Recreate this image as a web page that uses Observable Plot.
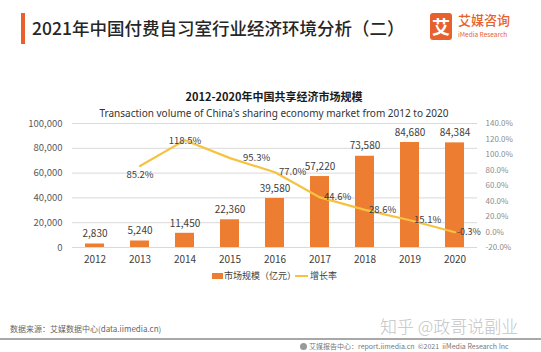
<!DOCTYPE html>
<html><head><meta charset="utf-8">
<script src="https://cdn.jsdelivr.net/npm/d3@7"></script>
<script src="https://cdn.jsdelivr.net/npm/@observablehq/plot@0.6"></script>
<style>
body{margin:0;background:#fff;}
#wrap{position:relative;width:541px;height:352px;overflow:hidden;font-family:"Noto Sans CJK SC","Noto Sans",sans-serif;background:#fff;}
.abs{position:absolute;white-space:nowrap;line-height:1;}
#chart{position:absolute;left:0;top:0;}
</style></head><body>
<div id="wrap">
  <div id="chart"></div>
  <div class="abs" style="left:21px;top:13px;width:4px;height:31px;background:#E8612C;"></div>
  <div class="abs" style="left:32px;top:19px;font-size:17.5px;color:#262626;font-weight:500;">2021年中国付费自习室行业经济环境分析（二）</div>
  <div class="abs" style="left:430px;top:13px;width:22px;height:27px;background:#E8612C;border-radius:3px;color:#fff;font-size:18px;font-weight:700;text-align:center;line-height:27px;">艾</div>
  <div class="abs" style="left:458px;top:13px;font-size:13px;color:#E8612C;font-weight:500;">艾媒咨询</div>
  <div class="abs" style="left:458px;top:31px;font-size:6.5px;color:#E8612C;">iMedia Research</div>
  <div class="abs" style="left:0;width:548px;text-align:center;top:91px;font-size:11px;font-weight:700;color:#1a1a1a;">2012-2020年中国共享经济市场规模</div>
  <div class="abs" style="left:0;width:548px;text-align:center;top:108px;font-size:10px;color:#333;font-family:'Noto Sans',sans-serif;">Transaction volume of China's sharing economy market from 2012 to 2020</div>
  <div class="abs" style="left:212px;top:273px;width:11px;height:6px;background:#ED7D31;"></div>
  <div class="abs" style="left:224px;top:271px;font-size:9px;color:#404040;">市场规模（亿元）</div>
  <div class="abs" style="left:295px;top:275px;width:13px;height:2px;background:#F5C242;"></div>
  <div class="abs" style="left:310px;top:271px;font-size:9px;color:#404040;">增长率</div>
  <div class="abs" style="left:10px;top:325px;font-size:8px;color:#666;">数据来源：艾媒数据中心(data.iimedia.cn)</div>
  <div class="abs" style="left:380px;top:317px;font-size:17px;color:#c4c4c4;font-weight:300;">知乎 @政哥说副业</div>
  <div class="abs" style="left:0;top:338px;width:541px;height:2px;background:#a8a8a8;"></div>
  <div class="abs" style="left:300px;top:343px;width:7px;height:7px;border-radius:50%;background:#999;"></div>
  <div class="abs" style="left:309px;top:343px;font-size:7px;color:#777;">艾媒报告中心：report.iimedia.cn &nbsp;©2021 &nbsp;iiMedia Research Inc</div>
</div>
<script>
const years = ["2012","2013","2014","2015","2016","2017","2018","2019","2020"];
const marketSize = [2830, 5240, 11450, 22360, 39580, 57220, 73580, 84680, 84384];
const growthYears = ["2013","2014","2015","2016","2017","2018","2019","2020"];
const growthRate = [85.2, 118.5, 95.3, 77.0, 44.6, 28.6, 15.1, -0.3];
const leftTicks = [0, 20000, 40000, 60000, 80000, 100000];
const rightTicks = [-20, 0, 20, 40, 60, 80, 100, 120, 140];

const pctMin = -20, pctMax = 140, yMax = 100000;
const toY = p => (p - pctMin) / (pctMax - pctMin) * yMax;
const fromY = v => v / yMax * (pctMax - pctMin) + pctMin;

const bars = years.map((y, i) => ({year: y, value: marketSize[i]}));
const growth = growthYears.map((y, i) => ({year: y, rate: growthRate[i], yv: toY(growthRate[i])}));

const fmt = d3.format(",");
const pct = d => d.rate.toFixed(1) + "%";
const font = "Noto Sans CJK SC";
const lab = {fontSize: 9.5, fill: "#404040"};

const chart = Plot.plot({
  width: 541,
  height: 352,
  marginLeft: 72,
  marginRight: 64,
  marginTop: 123,
  marginBottom: 105,
  style: {fontFamily: font, background: "transparent", overflow: "visible"},
  x: {domain: years, paddingInner: 0.58, paddingOuter: 0.29, label: null},
  y: {domain: [0, yMax], label: null},
  marks: [
    Plot.gridY(leftTicks, {stroke: "#d9d9d9", strokeOpacity: 1}),
    Plot.barY(bars, {x: "year", y: "value", fill: "#ED7D31"}),
    Plot.text(bars, {x: "year", y: "value", text: d => fmt(d.value), dy: -10, fontSize: 10, fill: "#404040"}),
    Plot.line(growth, {x: "year", y: "yv", stroke: "#F5C242", strokeWidth: 2.2}),
    Plot.text(growth.filter(d => d.year === "2013"), {x: "year", y: "yv", text: pct, dy: 9, ...lab}),
    Plot.text(growth.filter(d => d.year === "2014"), {x: "year", y: "yv", text: pct, dy: 1, ...lab}),
    Plot.text(growth.filter(d => d.year === "2015"), {x: "year", y: "yv", text: pct, dx: 13, textAnchor: "start", ...lab}),
    Plot.text(growth.filter(d => +d.year >= 2016 && +d.year <= 2019), {x: "year", y: "yv", text: pct, dx: 4, textAnchor: "start", ...lab}),
    Plot.text(growth.filter(d => d.year === "2020"), {x: "year", y: "yv", text: pct, dx: 2, textAnchor: "start", fontSize: 9, fill: "#404040"}),
    Plot.axisY(leftTicks, {anchor: "left", tickSize: 0, tickPadding: 10, tickFormat: fmt, fontSize: 9.5, fill: "#595959", label: null}),
    Plot.axisY(rightTicks.map(toY), {anchor: "right", tickSize: 0, tickPadding: 8, tickFormat: v => fromY(v).toFixed(1) + "%", fontSize: 8, fill: "#8c8c8c", label: null}),
    Plot.axisX({anchor: "bottom", tickSize: 0, tickPadding: 8, fontSize: 10, fill: "#404040", label: null})
  ]
});
document.getElementById("chart").appendChild(chart);
</script>
</body></html>
